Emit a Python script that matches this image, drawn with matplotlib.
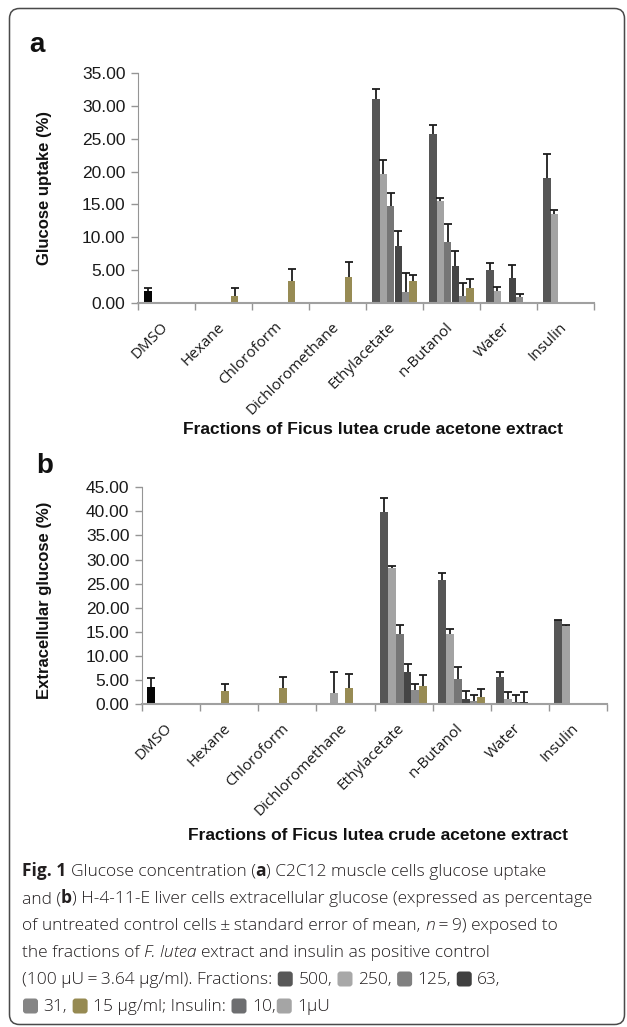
import matplotlib
matplotlib.use('Agg')
import matplotlib.pyplot as plt
from matplotlib.patches import FancyBboxPatch
from matplotlib.transforms import ScaledTranslation
import numpy as np

W, H = 627, 1027

categories = ['DMSO', 'Hexane', 'Chloroform', 'Dichloromethane',
              'Ethylacetate', 'n-Butanol', 'Water', 'Insulin']
fractions = ['500', '250', '125', '63', '31', '15']

# panel a - glucose uptake (%), one list per bar slot across the categories
uptake_500 = [1.8, 0.15, 0.15, 0.15, 31.1, 25.8, 5.0, 19.1]
uptake_250 = [0, 0, 0, 0, 19.7, 15.5, 1.8, 13.6]
uptake_125 = [0, 0, 0, 0, 14.7, 9.3, 0.15, 0]
uptake_63 = [0, 0, 0, 0, 8.6, 5.6, 3.7, 0]
uptake_31 = [0, 1.0, 3.3, 3.9, 1.7, 1.0, 0.9, 0]
uptake_15 = [0, 0, 0, 0, 3.3, 2.3, 0.15, 0]
uptake_err_500 = [0.4, 0, 0, 0, 1.5, 1.3, 1.1, 3.6]
uptake_err_250 = [0, 0, 0, 0, 2.0, 0.5, 0.6, 0.5]
uptake_err_125 = [0, 0, 0, 0, 2.1, 2.7, 0, 0]
uptake_err_63 = [0, 0, 0, 0, 2.4, 2.3, 2.0, 0]
uptake_err_31 = [0, 1.2, 1.8, 2.3, 2.9, 2.0, 0.5, 0]
uptake_err_15 = [0, 0, 0, 0, 0.9, 1.3, 0, 0]

# panel b - extracellular glucose (%)
extra_500 = [3.5, 0.1, 0.1, 0.1, 39.9, 25.8, 5.6, 17.4]
extra_250 = [0.1, 0.1, 0.1, 2.2, 28.2, 14.5, 1.0, 16.1]
extra_125 = [0.1, 2.7, 3.3, 0.1, 14.5, 5.1, 0.5, 0]
extra_63 = [0.1, 0.1, 0.1, 3.3, 6.6, 1.0, 0.35, 0]
extra_31 = [0.1, 0.1, 0.1, 0.1, 2.9, 0.7, 0.1, 0]
extra_15 = [0.1, 0.1, 0.1, 0.1, 3.8, 1.5, 0.1, 0]
extra_err_500 = [1.8, 0, 0, 0, 2.9, 1.5, 1.1, 0.1]
extra_err_250 = [0, 0, 0, 4.4, 0.5, 1.1, 1.5, 0.4]
extra_err_125 = [0, 1.5, 2.4, 0, 2.0, 2.5, 1.4, 0]
extra_err_63 = [0, 0, 0, 2.9, 1.8, 1.6, 2.1, 0]
extra_err_31 = [0, 0, 0, 0, 1.3, 1.1, 0, 0]
extra_err_15 = [0, 0, 0, 0, 2.2, 1.7, 0, 0]

frac_colors = ['#565656', '#a3a3a3', '#767676', '#454545', '#8b8b8b', '#978b54']
OLIVE = '#978b54'
BLACK = '#050505'
GRID_GRAY = '#959595'

# bars that are drawn in a different colour than their slot's default
a_override = {(0, 0): BLACK, (1, 4): OLIVE, (2, 4): OLIVE, (3, 4): OLIVE}
b_override = {(0, 0): BLACK, (1, 2): OLIVE, (2, 2): OLIVE, (3, 3): OLIVE}

fig = plt.figure(figsize=(W / 100, H / 100), dpi=100)

# full-figure overlay in pixel units for labels, border and caption
bg = fig.add_axes([0, 0, 1, 1], zorder=-1)
bg.set_xlim(0, W)
bg.set_ylim(H, 0)
bg.axis('off')


def px_axes(left, top, right, bottom):
    return fig.add_axes([left / W, 1 - bottom / H, (right - left) / W, (bottom - top) / H])


def draw_panel(ax, vals, errs, override, width, ymax):
    x = np.arange(len(categories))
    for s in range(len(fractions)):
        pos = x + 0.5 + (s - 2.5) * width
        cols = [override.get((c, s), frac_colors[s]) for c in range(len(categories))]
        ax.bar(pos, vals[s], width, color=cols, linewidth=0, zorder=2)
        e = np.array(errs[s], dtype=float)
        m = e > 0
        if m.any():
            v = np.array(vals[s], dtype=float)
            _, caps, _ = ax.errorbar(pos[m], v[m], yerr=[np.zeros(m.sum()), e[m]],
                                     fmt='none', ecolor='#1c1c1c', elinewidth=1.3,
                                     capsize=3, capthick=1.3, zorder=3)
            caps[0].set_visible(False)
    ax.set_xlim(0, len(categories))
    ax.set_ylim(0, ymax)
    ax.set_xticks(np.arange(len(categories) + 1))
    ax.set_yticks(np.arange(0, ymax + 1, 5))
    ax.set_yticklabels([f'{t:.2f}' for t in np.arange(0, ymax + 1, 5)],
                       fontsize=12.5, family='Liberation Sans', color='#1a1a1a')
    ax.tick_params(axis='x', length=5, width=1, color=GRID_GRAY, labelbottom=False)
    ax.tick_params(axis='y', length=5, width=1, color=GRID_GRAY, pad=4)
    for side in ['top', 'right']:
        ax.spines[side].set_visible(False)
    ax.spines['left'].set_color(GRID_GRAY)
    ax.spines['bottom'].set_color('#a0a0a0')
    ax.spines['bottom'].set_linewidth(1.5)
    ax.patch.set_visible(False)
    off = ScaledTranslation(-1 / 100, -22 / 100, fig.dpi_scale_trans)
    for i, name in enumerate(categories):
        ax.text(i + 0.5, 0, name, transform=ax.get_xaxis_transform() + off,
                rotation=45, ha='right', va='center', rotation_mode='anchor',
                fontsize=11, family='Open Sans', color='#1a1a1a')


ax_a = px_axes(138, 73.3, 594, 302.7)
draw_panel(ax_a,
           [uptake_500, uptake_250, uptake_125, uptake_63, uptake_31, uptake_15],
           [uptake_err_500, uptake_err_250, uptake_err_125, uptake_err_63,
            uptake_err_31, uptake_err_15],
           a_override, 0.13, 35)

ax_b = px_axes(142, 487.3, 607, 704)
draw_panel(ax_b,
           [extra_500, extra_250, extra_125, extra_63, extra_31, extra_15],
           [extra_err_500, extra_err_250, extra_err_125, extra_err_63,
            extra_err_31, extra_err_15],
           b_override, 0.136, 45)

lab = dict(family='Liberation Sans', fontweight='bold', color='#111111')
bg.text(29, 52, 'a', fontsize=20, va='baseline', ha='left', **lab)
bg.text(36, 473, 'b', fontsize=20, va='baseline', ha='left', **lab)
bg.text(45, 188, 'Glucose uptake (%)', rotation=90, ha='center', va='center',
        fontsize=12, **lab)
bg.text(45, 600, 'Extracellular glucose (%)', rotation=90, ha='center', va='center',
        fontsize=12, **lab)
xlab = 'Fractions of Ficus lutea crude acetone extract'
bg.text(373, 429, xlab, ha='center', va='center', fontsize=12.5, **lab)
bg.text(378, 836, xlab, ha='center', va='center', fontsize=12.5, **lab)

# rounded frame round the whole figure
bg.add_patch(FancyBboxPatch((9.5, 8.5), 615, 1016, boxstyle='round,pad=0,rounding_size=10',
                            fc='none', ec='#4a4a4a', lw=1.1))

# caption, laid out run by run
renderer = fig.canvas.get_renderer()
CAP_SIZE = 12.5
cap_styles = {
    'r': dict(family='Open Sans', fontweight='light', fontsize=CAP_SIZE, color='#231f20'),
    'b': dict(family='Open Sans', fontweight='bold', fontsize=CAP_SIZE, color='#231f20'),
    'i': dict(family='Open Sans', fontweight='light', style='italic', fontsize=CAP_SIZE,
              color='#231f20'),
}


def text_width(s, style):
    t = bg.text(0, 0, s, **cap_styles[style])
    w = t.get_window_extent(renderer).width
    t.remove()
    return w


space_w = {k: text_width('x x', k) - text_width('xx', k) for k in cap_styles}


def caption_line(x, y, runs):
    for kind, content in runs:
        if kind == 'sq':
            bg.add_patch(FancyBboxPatch((x + 1, y - 12.5), 15, 15,
                                        boxstyle='round,pad=0,rounding_size=3',
                                        fc=content, ec='none'))
            x += 17
            continue
        lead = len(content) - len(content.lstrip(' '))
        trail = len(content) - len(content.rstrip(' '))
        core = content.strip(' ')
        x += lead * space_w[kind]
        if core:
            t = bg.text(x, y, core, ha='left', va='baseline', **cap_styles[kind])
            x += t.get_window_extent(renderer).width
        x += trail * space_w[kind]


caption = [
    [('b', 'Fig. 1'), ('r', ' Glucose concentration ('), ('b', 'a'),
     ('r', ') C2C12 muscle cells glucose uptake')],
    [('r', 'and ('), ('b', 'b'),
     ('r', ') H-4-11-E liver cells extracellular glucose (expressed as percentage')],
    [('r', 'of untreated control cells\u2009±\u2009standard error of mean, '), ('i', 'n'),
     ('r', '\u2009=\u20099) exposed to')],
    [('r', 'the fractions of '), ('i', 'F. lutea'),
     ('r', ' extract and insulin as positive control')],
    [('r', '(100 µU\u2009=\u20093.64 µg/ml). Fractions: '), ('sq', '#585858'), ('r', ' 500, '),
     ('sq', '#a8a8a8'), ('r', ' 250, '), ('sq', '#808080'), ('r', ' 125, '),
     ('sq', '#404040'), ('r', ' 63,')],
    [('sq', '#858585'), ('r', ' 31, '), ('sq', '#968a52'), ('r', ' 15 µg/ml; Insulin: '),
     ('sq', '#6d6e70'), ('r', ' 10,'), ('sq', '#a5a5a5'), ('r', ' 1µU')],
]
for k, runs in enumerate(caption):
    caption_line(22, 876 + 27 * k, runs)

fig.savefig('out.png', dpi=100)
